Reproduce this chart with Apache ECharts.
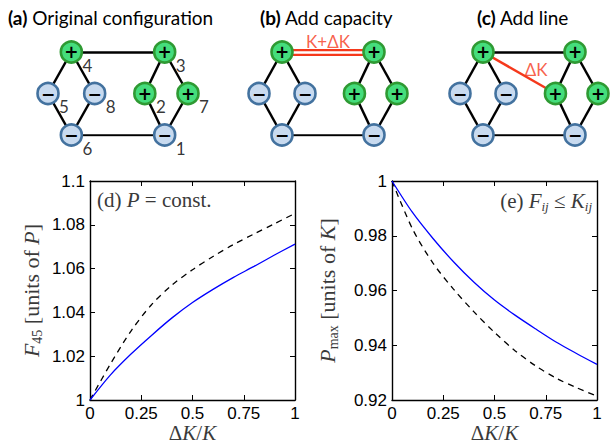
<!DOCTYPE html>
<html>
<head>
<meta charset="utf-8">
<script src="https://cdn.jsdelivr.net/npm/echarts@6/dist/echarts.min.js"></script>
<style>
  html, body { margin: 0; padding: 0; background: #fff; }
  #main { width: 613px; height: 445px; }
</style>
</head>
<body>
<div id="main"></div>
<script>
// ---- Network: eight nodes (numbered 1..8), layout column/row and sign ----
const nodeIds   = ['1', '2', '3', '4', '5', '6', '7', '8'];
const nodeCol   = [4, 3.15, 4, 0, -1, 0, 5, 1];
const nodeRow   = [2, 1, 0, 0, 1, 2, 1, 1];
const nodeSign  = ['−', '+', '+', '+', '−', '−', '+', '−'];
const edges     = [[4, 3], [4, 5], [4, 8], [5, 6], [8, 6], [6, 1], [3, 2], [3, 7], [2, 1], [7, 1]];
const upgradedEdge = [4, 3];   // (b) capacity raised to K+ΔK
const addedEdge    = [4, 2];   // (c) new line with capacity ΔK

const panelTitles = [['(a)', 'Original configuration'], ['(b)', 'Add capacity'], ['(c)', 'Add line']];

// ---- Curves vs. ΔK/K ----
const dK           = [0, 0.1, 0.2, 0.3, 0.4, 0.5, 0.6, 0.7, 0.8, 0.9, 1.0];
const f45Capacity  = [1.000, 1.0115, 1.021, 1.0295, 1.0375, 1.0445, 1.0505, 1.056, 1.061, 1.0662, 1.0712];
const f45Line      = [1.000, 1.0165, 1.0315, 1.0435, 1.0525, 1.0595, 1.0655, 1.071, 1.0758, 1.0805, 1.0852];
const pmaxCapacity = [1.000, 0.9885, 0.979, 0.9705, 0.963, 0.9565, 0.951, 0.946, 0.9412, 0.937, 0.933];
const pmaxLine     = [1.000, 0.9825, 0.970, 0.9605, 0.9522, 0.9447, 0.938, 0.9325, 0.928, 0.9245, 0.9214];

const GREEN = { color: '#45dd7c', borderColor: '#2f9a33', borderWidth: 2.6, opacity: 1 };
const BLUE  = { color: '#c8daef', borderColor: '#43729f', borderWidth: 2.6, opacity: 1 };
const RED = '#f5391c';
const TEXT_GREY = '#3a3a3a';
const SANS = 'Lato';
const SERIF = 'Liberation Serif';

const chart = echarts.init(document.getElementById('main'), null, { renderer: 'svg' });

const pos = id => { const i = nodeIds.indexOf(String(id)); return [nodeCol[i], nodeRow[i]]; };
const mid = e => { const a = pos(e[0]), b = pos(e[1]); return [(a[0] + b[0]) / 2, (a[1] + b[1]) / 2]; };
const onDK = ys => dK.map((x, i) => [x, ys[i]]);

// grids: 0 = (d), 1 = (e), 2..4 = network panels (a)(b)(c)
const grids = [
  { left: 90, top: 181, width: 205, height: 219 },
  { left: 392, top: 181, width: 205, height: 219 },
  { left: 48, top: 52, width: 140, height: 83 },
  { left: 259, top: 52, width: 138, height: 83 },
  { left: 460, top: 52, width: 138, height: 83 }
].map(g => Object.assign({ containLabel: false, outerBoundsMode: 'none' }, g));

const tickLabel = { fontFamily: 'Liberation Sans', fontSize: 17, lineHeight: 17, color: '#000' };
const boxLine = { show: true, onZero: false, lineStyle: { color: '#000', width: 1.4 } };
const inTick = { show: true, inside: true, length: 5, lineStyle: { color: '#000', width: 1 } };

function mathRich(size, lh) {
  const base = { fontFamily: SERIF, fontSize: size, fontWeight: 'normal', color: TEXT_GREY, lineHeight: lh || size + 4 };
  const sub = { fontFamily: SERIF, fontSize: Math.round(size * 0.64), fontWeight: 'normal', color: TEXT_GREY,
                lineHeight: Math.round(size * 0.64), verticalAlign: 'bottom' };
  return {
    r: base,
    i: Object.assign({}, base, { fontStyle: 'italic' }),
    s: sub,
    si: Object.assign({}, sub, { fontStyle: 'italic' })
  };
}

function plotX(grid, position) {
  return {
    type: 'value', gridIndex: grid, min: 0, max: 1, interval: 0.25, position,
    axisLine: boxLine, axisTick: inTick, splitLine: { show: false },
    axisLabel: position === 'bottom' ? Object.assign({ margin: 5 }, tickLabel) : { show: false },
    name: position === 'bottom' ? '{r|Δ}{i|K}{r|/}{i|K}' : '',
    nameLocation: 'middle', nameGap: 23, nameMoveOverlap: false,
    nameTextStyle: { rich: mathRich(21, 20) }
  };
}
function plotY(grid, position, min, max, name, gap) {
  return {
    type: 'value', gridIndex: grid, min, max, interval: 0.02, position,
    axisLine: boxLine, axisTick: inTick, splitLine: { show: false },
    axisLabel: position === 'left'
      ? Object.assign({ margin: 5, formatter: v => String(+v.toFixed(2)) }, tickLabel)
      : { show: false },
    name: position === 'left' ? name : '',
    nameLocation: 'middle', nameRotate: 90, nameGap: gap,
    nameTextStyle: { rich: mathRich(22) }
  };
}
const hiddenX = g => ({ type: 'value', gridIndex: g, min: -1, max: 5, show: false });
const hiddenY = g => ({ type: 'value', gridIndex: g, min: 0, max: 2, inverse: true, show: false });

const xAxes = [plotX(0, 'bottom'), plotX(0, 'top'), plotX(1, 'bottom'), plotX(1, 'top'),
               hiddenX(2), hiddenX(3), hiddenX(4)];
const yAxes = [
  plotY(0, 'left', 1, 1.1, '{i|F}{s|45}{r| [units of }{i|P}{r|]}', 46),
  plotY(0, 'right', 1, 1.1, '', 0),
  plotY(1, 'left', 0.92, 1, '{i|P}{s|max}{r| [units of }{i|K}{r|]}', 52),
  plotY(1, 'right', 0.92, 1, '', 0),
  hiddenY(2), hiddenY(3), hiddenY(4)
];

const series = [];

function curve(axis, data, dashed) {
  series.push({
    type: 'line', xAxisIndex: axis, yAxisIndex: axis, data: onDK(data),
    smooth: 0.3, showSymbol: false, silent: true,
    lineStyle: dashed ? { color: '#000', width: 1.3, type: [6, 5] } : { color: '#0000ff', width: 1.3 }
  });
}
curve(0, f45Line, true);
curve(0, f45Capacity, false);
curve(2, pmaxLine, true);
curve(2, pmaxCapacity, false);

function edgeSeries(ax, list, style, z) {
  series.push({
    type: 'lines', coordinateSystem: 'cartesian2d', xAxisIndex: ax, yAxisIndex: ax, z,
    silent: true, lineStyle: Object.assign({ curveness: 0, opacity: 1 }, style),
    data: list.map(e => ({ coords: [pos(e[0]), pos(e[1])] }))
  });
}
function nodeSeries(ax) {
  series.push({
    type: 'scatter', xAxisIndex: ax, yAxisIndex: ax, z: 5, silent: true,
    symbol: 'circle', symbolSize: 21,
    data: nodeIds.map((id, i) => ({
      value: [nodeCol[i], nodeRow[i]],
      itemStyle: nodeSign[i] === '+' ? GREEN : BLUE,
      label: { formatter: nodeSign[i] }
    })),
    label: { show: true, position: 'inside', color: '#000', fontFamily: 'DejaVu Sans',
             fontWeight: 'bold', fontSize: 17 }
  });
}
function tagSeries(ax, points, style) {
  series.push({
    type: 'scatter', xAxisIndex: ax, yAxisIndex: ax, z: 6, silent: true,
    symbolSize: 1, itemStyle: { color: 'transparent' },
    data: points.map(p => ({ value: p.at, label: { formatter: p.text, offset: p.offset } })),
    label: Object.assign({ show: true, position: 'inside', fontWeight: 'normal' }, style)
  });
}

const ax = [4, 5, 6]; // axis indices of the three diagram panels

// (a) original network with node numbers
edgeSeries(ax[0], edges, { color: '#000', width: 2.5 }, 2);
nodeSeries(ax[0]);
tagSeries(ax[0], nodeIds.map((id, i) => ({ at: [nodeCol[i], nodeRow[i]], text: id, offset: [16, 13] })),
  { fontFamily: SANS, fontSize: 17, color: '#000' });

// (b) capacity of line 4-3 increased
const keep = e => !(e[0] === upgradedEdge[0] && e[1] === upgradedEdge[1]);
edgeSeries(ax[1], edges.filter(keep), { color: '#000', width: 2.5 }, 2);
edgeSeries(ax[1], [upgradedEdge], { color: RED, width: 7 }, 3);
edgeSeries(ax[1], [upgradedEdge], { color: '#fff', width: 2.6 }, 4);
nodeSeries(ax[1]);
tagSeries(ax[1], [{ at: mid(upgradedEdge), text: 'K+ΔK', offset: [0, -11] }],
  { fontFamily: SANS, fontSize: 17, color: RED });

// (c) new line 4-2 added
edgeSeries(ax[2], edges, { color: '#000', width: 2.5 }, 2);
edgeSeries(ax[2], [addedEdge], { color: RED, width: 2.5 }, 3);
nodeSeries(ax[2]);
tagSeries(ax[2], [{ at: mid(addedEdge), text: 'ΔK', offset: [17, -3] }],
  { fontFamily: SANS, fontSize: 17, color: RED });

const titleRich = {
  b: { fontFamily: SANS, fontSize: 19, fontWeight: 'bold', color: '#000' },
  n: { fontFamily: SANS, fontSize: 19, fontWeight: 'normal', color: '#000' }
};
const titleLeft = [8, 260, 477];
const titles = panelTitles.map((t, i) => ({
  text: '{b|' + t[0] + '}{n| ' + t[1] + '}', left: titleLeft[i], top: 8, padding: 0,
  textStyle: { fontWeight: 'normal', rich: titleRich }
}));
titles.push({
  text: '{r|(d) }{i|P}{r| = const.}', left: 97, top: 187, padding: 0,
  textStyle: { fontWeight: 'normal', rich: mathRich(21) }
});
titles.push({
  text: '{r|(e) }{i|F}{si|ij}{r| ≤ }{i|K}{si|ij}', right: 21, top: 188, padding: 0,
  textStyle: { fontWeight: 'normal', rich: mathRich(21) }
});

chart.setOption({
  animation: false,
  backgroundColor: '#fff',
  title: titles,
  grid: grids,
  xAxis: xAxes,
  yAxis: yAxes,
  series
});
</script>
</body>
</html>
